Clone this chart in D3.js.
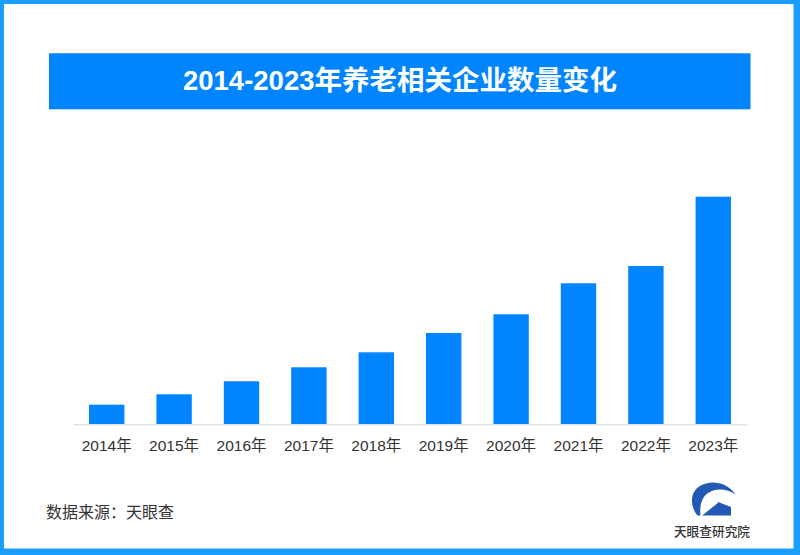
<!DOCTYPE html>
<html>
<head>
<meta charset="utf-8">
<script src="https://cdn.jsdelivr.net/npm/d3@7"></script>
<style>
  html, body { margin: 0; padding: 0; background: #fff; }
  svg { display: block; }
</style>
</head>
<body>
<svg id="chart" width="800" height="555"></svg>
<script>
// ---- data (relative heights) ----
const years = ["2014", "2015", "2016", "2017", "2018", "2019", "2020", "2021", "2022", "2023"];
const values = [19.6, 30, 43, 57, 72, 91.3, 110, 141, 158.3, 227.6];
const tickSuffix = "年";
const titleText = "2014-2023年养老相关企业数量变化";
const sourceText = "数据来源：天眼查";
const logoText = "天眼查研究院";

const W = 800, H = 555;
const blue = "#0084ff";
const borderBlue = "#1a9fff";
const cjk = "'Noto Sans CJK SC', 'Noto Sans', sans-serif";
const latinCjk = "'Liberation Sans', 'Noto Sans CJK SC', sans-serif";

const svg = d3.select("#chart");

// background + frame
svg.append("rect").attr("x", 0).attr("y", 0).attr("width", W).attr("height", H).attr("fill", "#fff");
svg.append("rect")
  .attr("x", 2).attr("y", 2).attr("width", W - 6.5).attr("height", H - 6.5)
  .attr("fill", "none").attr("stroke", borderBlue).attr("stroke-width", 4);
svg.append("rect").attr("x", 795.3).attr("y", 0).attr("width", 4.7).attr("height", H).attr("fill", borderBlue);
svg.append("rect").attr("x", 0).attr("y", 550.3).attr("width", W).attr("height", 4.7).attr("fill", borderBlue);

// title banner
svg.append("rect").attr("x", 49).attr("y", 53.3).attr("width", 701.5).attr("height", 56)
  .attr("fill", blue);
svg.append("text")
  .attr("x", 400).attr("y", 80)
  .attr("text-anchor", "middle").attr("dominant-baseline", "central")
  .attr("fill", "#fff").attr("font-family", latinCjk).attr("font-weight", 700)
  .attr("font-size", 27.5)
  .text(titleText);

// scales
const x = d3.scaleBand().domain(years).range([73, 747]).paddingInner(0.475).paddingOuter(0.2375);
const y = d3.scaleLinear().domain([0, d3.max(values)]).range([424.3, 196.7]);

// bars
svg.append("g").selectAll("rect").data(years).join("rect")
  .attr("x", d => x(d))
  .attr("width", x.bandwidth())
  .attr("y", (d, i) => y(values[i]))
  .attr("height", (d, i) => y(0) - y(values[i]))
  .attr("fill", blue);

// x axis
const xAxis = d3.axisBottom(x).tickSize(0).tickPadding(0).tickFormat(d => d + tickSuffix);
const gx = svg.append("g").attr("transform", `translate(0,${y(0)})`).call(xAxis);
gx.select(".domain").attr("stroke", "#e2e2e2").attr("stroke-width", 1.6);
gx.selectAll("text")
  .attr("y", 21).attr("dy", "0.35em")
  .attr("fill", "#333").attr("font-family", latinCjk).attr("font-size", 15.5);

// source
svg.append("text")
  .attr("x", 46).attr("y", 511).attr("dominant-baseline", "central")
  .attr("fill", "#333").attr("font-family", cjk).attr("font-size", 16)
  .text(sourceText);

// logo
const logo = svg.append("g");
const logoBlue = "#2358b5";
logo.append("path")
  .attr("d", "M697.5,515.5 C689.5,506 690,492 700,486 C710,480 726,481 735.5,494.5 C727,488.5 716,488 708,493 C701,498 699.5,507 700.5,515.5 Z")
  .attr("fill", logoBlue);
logo.append("path")
  .attr("d", "M702,515.5 L718,502 L731,507 L731,515.5 Z")
  .attr("fill", logoBlue);
logo.append("path")
  .attr("d", "M701,515.5 L717.5,502.5")
  .attr("stroke", "#fff").attr("stroke-width", 1.2);
logo.append("text")
  .attr("x", 712).attr("y", 530).attr("text-anchor", "middle").attr("dominant-baseline", "central")
  .attr("fill", "#333").attr("font-family", cjk).attr("font-size", 12.7).attr("font-weight", 500)
  .text(logoText);
</script>
</body>
</html>
